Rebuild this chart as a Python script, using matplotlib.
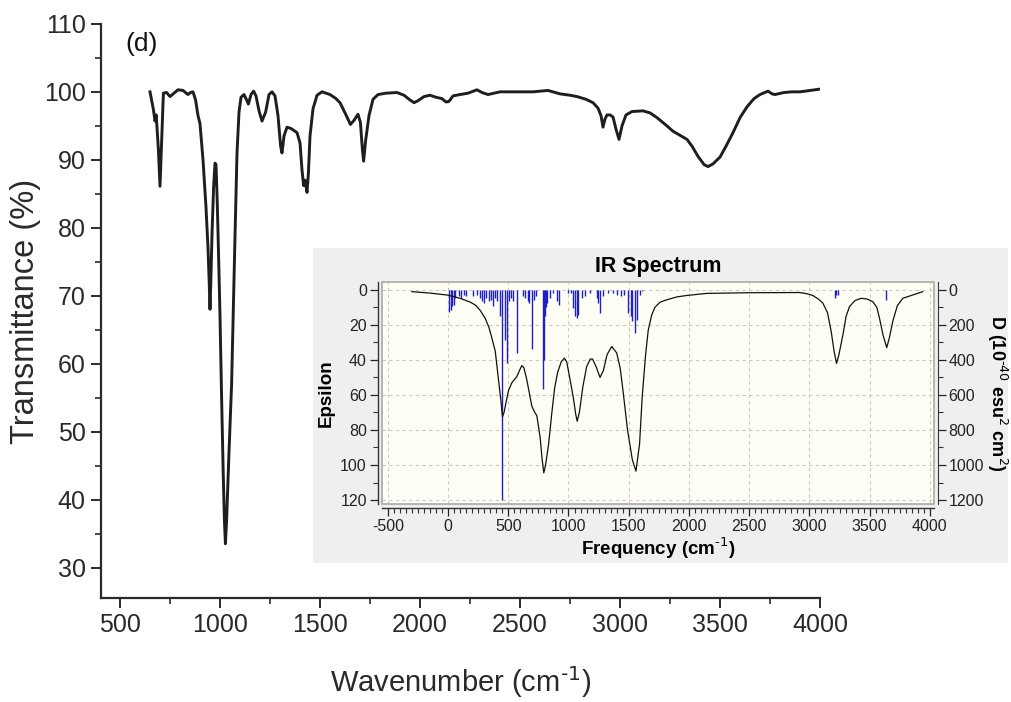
import matplotlib
matplotlib.use("Agg")
import matplotlib.pyplot as plt
from matplotlib.patches import Rectangle
from matplotlib.ticker import MultipleLocator

plt.rcParams['font.family'] = ['Liberation Sans', 'DejaVu Sans']
plt.rcParams['axes.unicode_minus'] = False

#----- Data -----#

# measured FTIR spectrum
wavenumber = [
    650, 667, 675, 681, 692, 700, 708, 717, 733, 750, 770, 790, 815, 840, 852,
    865, 878, 890, 900, 915, 930, 940, 946, 950, 954, 960, 968, 975, 980, 986,
    992, 1000, 1008, 1016, 1022, 1027, 1033, 1045, 1058, 1068, 1076, 1085,
    1095, 1105, 1120, 1133, 1142, 1155, 1168, 1180, 1195, 1210, 1228, 1245,
    1260, 1275, 1290, 1303, 1310, 1320, 1335, 1355, 1385, 1400, 1410, 1418,
    1425, 1435, 1442, 1450, 1465, 1485, 1510, 1550, 1580, 1600, 1630, 1652,
    1670, 1690, 1702, 1712, 1718, 1728, 1745, 1765, 1790, 1830, 1885, 1920,
    1950, 1970, 1990, 2020, 2050, 2080, 2110, 2130, 2145, 2165, 2200, 2240,
    2285, 2310, 2340, 2400, 2500, 2565, 2640, 2700, 2750, 2785, 2830, 2865,
    2890, 2905, 2915, 2925, 2935, 2950, 2965, 2980, 2995, 3010, 3030, 3060,
    3115, 3150, 3185, 3230, 3265, 3300, 3335, 3360, 3390, 3420, 3440, 3465,
    3500, 3530, 3565, 3600, 3635, 3670, 3700, 3740, 3760, 3775, 3820, 3860,
    3900, 3950, 4000
]
transmittance = [
    100.0, 97.4, 95.7, 96.6, 91.5, 86.1, 92.7, 99.8, 99.9, 99.3, 99.8, 100.3,
    100.2, 99.6, 99.9, 100.0, 98.8, 96.5, 95.3, 90.0, 83.0, 77.0, 72.0, 68.0,
    72.0, 79.0, 86.0, 89.5, 89.3, 84.0, 77.0, 67.0, 55.0, 44.0, 37.0, 33.5,
    37.0, 47.0, 57.0, 70.0, 80.0, 91.0, 97.0, 99.2, 99.6, 98.8, 98.2, 99.6,
    100.1, 99.4, 97.2, 95.7, 97.0, 99.6, 100.0, 99.4, 96.5, 92.0, 91.0, 93.5,
    94.8, 94.6, 94.0, 92.5, 88.5, 86.2, 87.0, 85.2, 88.0, 93.5, 97.5, 99.5,
    100.0, 99.6, 99.0, 98.4, 96.6, 95.2, 95.8, 96.7, 95.5, 91.5, 89.8, 92.8,
    96.5, 98.9, 99.6, 99.8, 99.9, 99.5, 98.8, 98.4, 98.7, 99.3, 99.5, 99.2,
    99.0, 98.5, 98.6, 99.4, 99.6, 99.8, 100.3, 99.9, 99.6, 100.0, 100.0,
    100.0, 100.2, 99.7, 99.5, 99.3, 98.9, 98.4, 97.6, 96.5, 94.8, 96.0, 96.6,
    96.6, 96.3, 94.5, 93.0, 95.0, 96.6, 97.1, 97.2, 96.9, 96.2, 95.1, 94.2,
    93.6, 93.0, 92.0, 90.5, 89.3, 89.0, 89.4, 90.4, 92.0, 94.0, 96.2, 97.8,
    99.0, 99.6, 100.1, 99.7, 99.6, 99.9, 100.0, 100.0, 100.2, 100.4
]

# computed (DFT) IR spectrum for the inset
calc_freq = [
    -300, -150, 0, 100, 185, 230, 268, 310, 340, 364, 392, 420, 440, 452, 465,
    485, 502, 530, 571, 600, 613, 630, 653, 675, 696, 720, 737, 765, 780, 795,
    810, 835, 862, 885, 910, 940, 966, 985, 1010, 1041, 1060, 1072, 1090,
    1120, 1150, 1180, 1200, 1230, 1262, 1290, 1320, 1359, 1400, 1430, 1455,
    1490, 1530, 1560, 1590, 1612, 1640, 1662, 1690, 1717, 1760, 1814, 1900,
    1980, 2146, 2500, 2919, 2980, 3029, 3080, 3112, 3150, 3181, 3205, 3225,
    3245, 3278, 3305, 3333, 3380, 3430, 3480, 3526, 3560, 3582, 3612, 3642,
    3665, 3692, 3730, 3775, 3858, 3941
]
calc_epsilon = [
    1.0, 1.8, 3.0, 4.8, 7.0, 8.8, 11.8, 16.5, 21.5, 27.5, 35.0, 52.0, 64.0,
    72.4, 70.0, 63.0, 57.5, 53.0, 49.5, 45.0, 43.2, 44.5, 51.0, 59.0, 66.5,
    70.0, 71.8, 84.5, 96.0, 104.5, 100.0, 88.0, 70.0, 56.0, 47.0, 41.0, 39.0,
    41.0, 50.0, 62.0, 71.0, 75.0, 70.0, 55.0, 44.0, 39.5, 39.5, 44.0, 50.0,
    46.0, 37.0, 32.3, 36.0, 45.0, 59.0, 80.0, 97.0, 103.5, 88.0, 61.0, 37.0,
    23.0, 14.5, 10.0, 7.0, 5.7, 4.0, 3.2, 2.0, 1.6, 1.5, 2.2, 3.2, 5.5, 7.6,
    13.0, 23.8, 35.0, 42.0, 37.0, 25.7, 15.0, 9.5, 6.0, 4.8, 5.2, 6.7, 10.0,
    16.2, 26.0, 33.0, 27.0, 18.0, 9.0, 4.8, 2.9, 1.0
]

# calculated normal-mode intensities (sticks)
stick_freq = [
    11, 21, 33, 46, 60, 88, 107, 129, 151, 204, 240, 262, 281, 295, 317, 337,
    356, 373, 392, 406, 433, 452, 475, 489, 508, 522, 538, 571, 621, 640, 660,
    676, 696, 710, 732, 787, 800, 808, 815, 820, 848, 875, 903, 922, 999, 1017,
    1041, 1055, 1069, 1082, 1110, 1138, 1179, 1234, 1248, 1262, 1289, 1326,
    1372, 1400, 1436, 1463, 1495, 1515, 1530, 1548, 1568, 1590, 1612, 3209,
    3222, 3236, 3637
]
stick_epsilon = [
    12.8, 11.2, 9.3, 8.4, 4.6, 3.6, 4.6, 2.7, 3.6, 3.6, 2.7, 4.6, 6.5, 7.4,
    4.6, 6.5, 5.5, 9.3, 4.6, 6.5, 15.0, 120.0, 28.4, 41.7, 6.5, 4.6, 6.5, 36.0,
    3.6, 4.6, 6.5, 7.4, 34.0, 5.5, 3.6, 56.5, 40.0, 15.0, 10.0, 7.4, 4.6, 1.7,
    6.5, 8.4, 1.7, 1.7, 10.3, 15.0, 16.0, 14.1, 4.6, 3.6, 1.7, 4.6, 7.4, 13.1,
    3.6, 1.7, 1.7, 2.7, 3.6, 2.7, 13.0, 15.0, 18.0, 24.5, 17.0, 3.0, 0.8, 4.8,
    3.0, 3.0, 6.0
]

main_xticks = [500, 1000, 1500, 2000, 2500, 3000, 3500, 4000]
main_yticks = [30, 40, 50, 60, 70, 80, 90, 100, 110]

#----- Figure -----#

text_col = '#2a2a2a'
fig = plt.figure(figsize=(10.12, 7.02), dpi=100)

ax = fig.add_axes([0.0998, 0.148, 0.7105, 0.818])
ax.plot(wavenumber, transmittance, color='#1e1e1e', lw=2.1, solid_joinstyle='round')
ax.set_xlim(405, 4000)
ax.set_ylim(25.5, 110)
ax.set_xticks(main_xticks)
ax.set_yticks(main_yticks)
ax.xaxis.set_minor_locator(MultipleLocator(250))
ax.yaxis.set_minor_locator(MultipleLocator(5))
ax.tick_params(which='major', direction='out', length=7, width=1.4,
               labelsize=18, colors=text_col, pad=4)
ax.tick_params(which='minor', direction='out', length=4, width=1.2, colors=text_col)
for side in ('top', 'right'):
    ax.spines[side].set_visible(False)
for side in ('left', 'bottom'):
    ax.spines[side].set_linewidth(1.6)
    ax.spines[side].set_color(text_col)
ax.set_xlabel(r'Wavenumber (cm$^{\text{-1}}$)', fontsize=21, color=text_col, labelpad=19)
ax.set_ylabel('Transmittance (%)', fontsize=23.5, color=text_col, labelpad=2)
ax.text(0.034, 0.985, '(d)', transform=ax.transAxes, fontsize=19,
        color='#111111', ha='left', va='top')

# gray panel behind the inset
bg = fig.add_axes([0.309, 0.198, 0.687, 0.449])
bg.set_facecolor('#efefef')
bg.set_xticks([])
bg.set_yticks([])
for sp in bg.spines.values():
    sp.set_visible(False)

# inset: computed spectrum
ins = fig.add_axes([0.3775, 0.282, 0.5455, 0.316])
ins.set_facecolor('#fefef4')
ins.vlines(stick_freq, 0, stick_epsilon, color='#1f1fc8', lw=1.0, zorder=2)
ins.plot(calc_freq, calc_epsilon, color='#111111', lw=0.9, zorder=3)
ins.set_xlim(-548, 4035)
ins.set_ylim(122.3, -4.4)
ins.set_xticks(range(-500, 4001, 500))
ins.xaxis.set_minor_locator(MultipleLocator(50))
ins.set_yticks(range(0, 121, 20))
ins.yaxis.set_minor_locator(MultipleLocator(10))
ins.grid(True, which='major', color='#c8c8c8', ls=(0, (3, 3)), lw=0.8)
ins.set_axisbelow(True)
ins.add_patch(Rectangle((0, 0), 1, 1, transform=ins.transAxes, fill=False,
                        edgecolor='#a9a9a9', lw=1.2, zorder=4, clip_on=False))
ins.spines['top'].set_visible(False)
ins.spines['right'].set_visible(False)
for side in ('left', 'bottom'):
    ins.spines[side].set_position(('outward', 3))
    ins.spines[side].set_color('#333333')
    ins.spines[side].set_linewidth(1.0)
ins.tick_params(which='major', direction='out', length=6, width=0.9,
                labelsize=11.5, colors='#222222', pad=2)
ins.tick_params(which='minor', direction='out', length=3.5, width=0.8, colors='#333333')
ins.set_title('IR Spectrum', fontsize=15.5, fontweight='bold', pad=7)
ins.set_xlabel(r'Frequency (cm$^{\text{-1}}$)', fontsize=13.5, fontweight='bold', labelpad=1)
ins.set_ylabel('Epsilon', fontsize=13.5, fontweight='bold', labelpad=4)

# right axis: dipole strength
ins2 = ins.twinx()
ins2.set_ylim(1223, -44)
ins2.set_yticks(range(0, 1201, 200))
ins2.yaxis.set_minor_locator(MultipleLocator(100))
for side in ('top', 'left', 'bottom'):
    ins2.spines[side].set_visible(False)
ins2.spines['right'].set_position(('outward', 3))
ins2.spines['right'].set_color('#333333')
ins2.tick_params(which='major', direction='out', length=6, width=0.9,
                 labelsize=11.5, colors='#222222', pad=1.5)
ins2.tick_params(which='minor', direction='out', length=3.5, width=0.8, colors='#333333')
ins2.set_ylabel(r'D (10$^{\text{-40}}$ esu$^{\text{2}}$ cm$^{\text{2}}$)',
                fontsize=13, fontweight='bold', rotation=270, labelpad=4)
ins2.yaxis.set_label_coords(1.136, 0.5)

fig.savefig('out.png', dpi=100)
